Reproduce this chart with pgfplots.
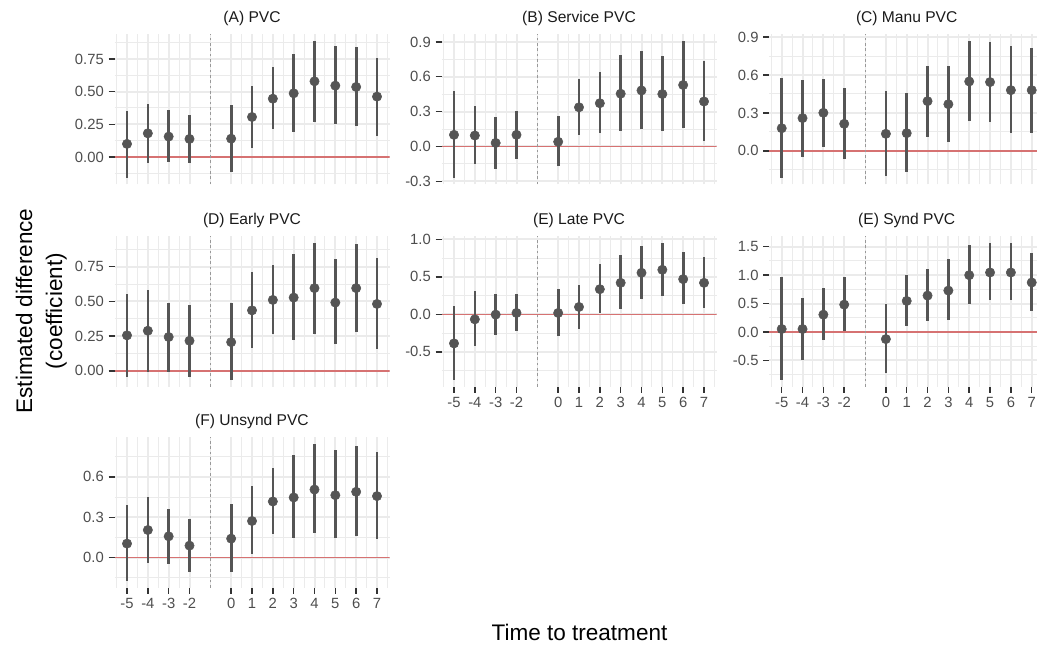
\documentclass[border=0pt]{standalone}
\usepackage{fontspec}
\setmainfont{Liberation Sans}
\usepackage{pgfplots}
\usepackage{pgfplotstable}
\pgfplotsset{compat=1.18}

\definecolor{ptc}{HTML}{555555}
\definecolor{gridc}{HTML}{EBEBEB}
\definecolor{tickc}{HTML}{333333}
\definecolor{labc}{HTML}{4D4D4D}
\definecolor{titc}{HTML}{1A1A1A}
\definecolor{zeroc}{HTML}{D67272}
\definecolor{dashc}{HTML}{999999}

% t = time to treatment, est = coefficient, lo/hi = interval
\pgfplotstableread{
t est lo hi
-5 0.100 -0.158 0.352
-4 0.181 -0.043 0.406
-3 0.156 -0.036 0.360
-2 0.138 -0.043 0.319
0 0.140 -0.112 0.395
1 0.306 0.071 0.546
2 0.446 0.212 0.686
3 0.487 0.189 0.788
4 0.579 0.270 0.890
5 0.546 0.253 0.847
6 0.536 0.237 0.842
7 0.462 0.163 0.760
}\tabA
\pgfplotstableread{
t est lo hi
-5 0.100 -0.268 0.475
-4 0.094 -0.150 0.350
-3 0.030 -0.196 0.250
-2 0.100 -0.104 0.305
0 0.040 -0.171 0.265
1 0.337 0.101 0.578
2 0.372 0.118 0.640
3 0.454 0.133 0.786
4 0.482 0.150 0.822
5 0.451 0.133 0.780
6 0.529 0.158 0.912
7 0.387 0.046 0.736
}\tabB
\pgfplotstableread{
t est lo hi
-5 0.179 -0.211 0.573
-4 0.259 -0.045 0.562
-3 0.301 0.034 0.570
-2 0.214 -0.061 0.496
0 0.135 -0.195 0.472
1 0.140 -0.164 0.454
2 0.393 0.111 0.675
3 0.369 0.071 0.670
4 0.549 0.235 0.871
5 0.544 0.227 0.860
6 0.480 0.140 0.828
7 0.480 0.145 0.815
}\tabC
\pgfplotstableread{
t est lo hi
-5 0.256 -0.041 0.557
-4 0.289 -0.010 0.586
-3 0.244 -0.010 0.492
-2 0.217 -0.041 0.473
0 0.207 -0.065 0.487
1 0.436 0.164 0.709
2 0.511 0.263 0.762
3 0.528 0.219 0.842
4 0.596 0.263 0.921
5 0.492 0.190 0.803
6 0.596 0.280 0.916
7 0.482 0.159 0.810
}\tabD
\pgfplotstableread{
t est lo hi
-5 -0.388 -0.875 0.107
-4 -0.067 -0.429 0.308
-3 -0.004 -0.272 0.272
-2 0.018 -0.223 0.272
0 0.018 -0.286 0.344
1 0.098 -0.192 0.397
2 0.335 0.013 0.674
3 0.420 0.071 0.795
4 0.554 0.200 0.915
5 0.594 0.241 0.951
6 0.469 0.134 0.826
7 0.420 0.089 0.763
}\tabEL
\pgfplotstableread{
t est lo hi
-5 0.053 -0.841 0.959
-4 0.053 -0.500 0.606
-3 0.306 -0.135 0.782
-2 0.482 0.018 0.959
0 -0.124 -0.724 0.494
1 0.547 0.106 1.006
2 0.641 0.194 1.100
3 0.729 0.206 1.282
4 1.000 0.500 1.535
5 1.047 0.565 1.565
6 1.047 0.559 1.565
7 0.871 0.371 1.394
}\tabES
\pgfplotstableread{
t est lo hi
-5 0.104 -0.173 0.388
-4 0.205 -0.037 0.452
-3 0.158 -0.044 0.363
-2 0.089 -0.109 0.289
0 0.141 -0.104 0.400
1 0.272 0.025 0.531
2 0.417 0.178 0.669
3 0.447 0.148 0.760
4 0.506 0.183 0.844
5 0.464 0.146 0.798
6 0.489 0.160 0.830
7 0.457 0.141 0.785
}\tabF

\pgfplotsset{
  panel/.style={
    scale only axis, width=206.25pt, height=112.875pt,
    anchor=north west,
    xmin=-5.6, xmax=7.6,
    xtick={-5,-4,-3,-2,0,1,2,3,4,5,6,7},
    minor xtick={-5.5,-4.5,-3.5,-2.5,-1,0.5,1.5,2.5,3.5,4.5,5.5,6.5,7.5},
    axis line style={draw=none},
    tick align=outside,
    major tick length=4.5pt, minor tick length=0pt,
    xmajorgrids, ymajorgrids, xminorgrids, yminorgrids,
    major grid style={line width=1.5pt, gridc},
    minor grid style={line width=0.75pt, gridc},
    xtick pos=left, ytick pos=left,
    tick style={line width=1.1pt, tickc},
    tick label style={font=\fontsize{11.1}{13}\selectfont, text=labc},
    title style={font=\fontsize{11.7}{14}\selectfont, text=titc, anchor=center, at={(0.5,1)}, yshift=5.5pt},
  },
  noxlab/.style={xticklabels={}, x tick style={draw=none}},
  xlab/.style={xticklabels={-5,-4,-3,-2,0,1,2,3,4,5,6,7}},
}

\newcommand{\panelbody}[1]{%
  \draw[zeroc, line width=1pt] ({rel axis cs:0,0}|-{axis cs:0,0}) -- ({rel axis cs:1,0}|-{axis cs:0,0});
  \draw[dashc, line width=0.6pt, dash pattern=on 2pt off 2pt] ({axis cs:-1,0}|-{rel axis cs:0,0}) -- ({axis cs:-1,0}|-{rel axis cs:0,1});
  \addplot[draw=none, mark=none, error bars/.cd, y dir=both, y explicit, error mark=none,
    error bar style={draw=ptc, solid, line width=2pt}]
    table[x=t, y=est, y error plus expr=\thisrow{hi}-\thisrow{est}, y error minus expr=\thisrow{est}-\thisrow{lo}] {#1};
  \addplot[only marks, mark=*, mark size=3.5pt, mark options={draw=ptc, fill=ptc}] table[x=t, y=est] {#1};
}

\begin{document}
\begin{tikzpicture}
\useasboundingbox (0,0) rectangle (777.75pt,-486.75pt);

\begin{axis}[panel, noxlab, at={(85.875pt,-25.425pt)}, title={(A) PVC},
  ymin=-0.210, ymax=0.942, ytick={0,0.25,0.5,0.75}, yticklabels={0.00,0.25,0.50,0.75},
  minor ytick={-0.125,0.125,0.375,0.625,0.875}]
\panelbody{\tabA}
\end{axis}

\begin{axis}[panel, noxlab, at={(331.125pt,-25.425pt)}, title={(B) Service PVC},
  ymin=-0.327, ymax=0.969, ytick={-0.3,0,0.3,0.6,0.9}, yticklabels={-0.3,0.0,0.3,0.6,0.9},
  minor ytick={-0.15,0.15,0.45,0.75}]
\panelbody{\tabB}
\end{axis}

\begin{axis}[panel, noxlab, at={(576.9pt,-25.425pt)}, title={(C) Manu PVC},
  ymin=-0.265, ymax=0.925, ytick={0,0.3,0.6,0.9}, yticklabels={0.0,0.3,0.6,0.9},
  minor ytick={-0.15,0.15,0.45,0.75}]
\panelbody{\tabC}
\end{axis}

\begin{axis}[panel, noxlab, at={(85.875pt,-177.15pt)}, title={(D) Early PVC},
  ymin=-0.114, ymax=0.970, ytick={0,0.25,0.5,0.75}, yticklabels={0.00,0.25,0.50,0.75},
  minor ytick={-0.125,0.125,0.375,0.625,0.875}]
\panelbody{\tabD}
\end{axis}

\begin{axis}[panel, xlab, at={(331.125pt,-177.15pt)}, title={(E) Late PVC},
  ymin=-0.966, ymax=1.042, ytick={-0.5,0,0.5,1}, yticklabels={-0.5,0.0,0.5,1.0},
  minor ytick={-0.75,-0.25,0.25,0.75}]
\panelbody{\tabEL}
\end{axis}

\begin{axis}[panel, xlab, at={(576.9pt,-177.15pt)}, title={(E) Synd PVC},
  ymin=-0.961, ymax=1.685, ytick={-0.5,0,0.5,1,1.5}, yticklabels={-0.5,0.0,0.5,1.0,1.5},
  minor ytick={-0.75,-0.25,0.25,0.75,1.25}]
\panelbody{\tabES}
\end{axis}

\begin{axis}[panel, xlab, at={(85.875pt,-327.9pt)}, title={(F) Unsynd PVC},
  ymin=-0.224, ymax=0.895, ytick={0,0.3,0.6}, yticklabels={0.0,0.3,0.6},
  minor ytick={-0.15,0.15,0.45,0.75}]
\panelbody{\tabF}
\end{axis}

\node[rotate=90, anchor=base, font=\fontsize{16.9}{20}\selectfont] at (24pt,-233.25pt) {Estimated difference};
\node[rotate=90, anchor=base, font=\fontsize{16.9}{20}\selectfont] at (46.5pt,-233.25pt) {(coefficient)};
\node[anchor=base, font=\fontsize{16.9}{20}\selectfont] at (434.6pt,-480pt) {Time to treatment};
\end{tikzpicture}
\end{document}
